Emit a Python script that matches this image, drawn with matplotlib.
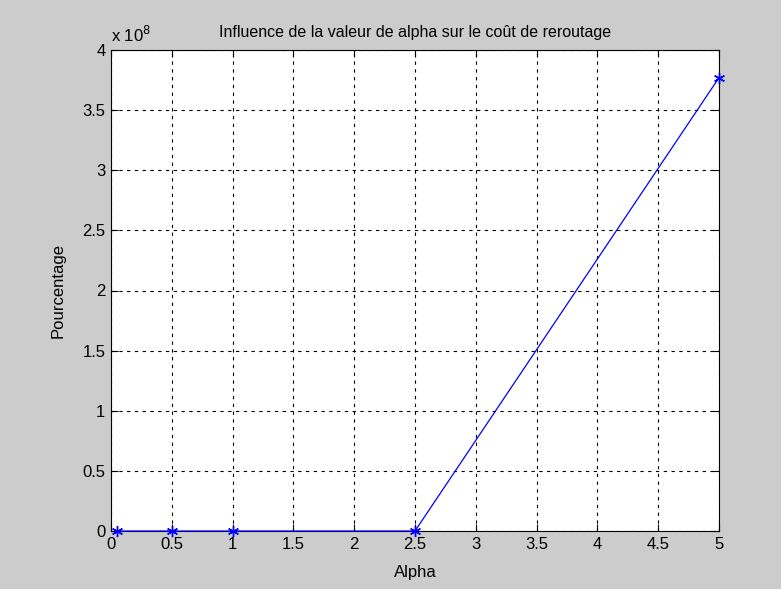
import matplotlib.pyplot as plt

alpha = [0.05, 0.5, 1, 2.5, 5]
cout = [0, 0, 0, 0, 3.77e8]
xticks = [0, 0.5, 1, 1.5, 2, 2.5, 3, 3.5, 4, 4.5, 5]
yticks = [0, 0.5, 1, 1.5, 2, 2.5, 3, 3.5, 4]

plt.rcParams['font.family'] = ['Liberation Sans', 'DejaVu Sans']

fig = plt.figure(figsize=(7.81, 5.89), dpi=100, facecolor='#cccccc')
ax = fig.add_axes([111 / 781, 1 - 531 / 589, 608 / 781, 481 / 589])
ax.set_facecolor('white')

ax.plot(alpha, [v / 1e8 for v in cout], color='blue', lw=0.9, marker=(6, 2, 0), ms=8,
        mec='blue', mew=1.0, clip_on=False, zorder=3)

ax.set_xlim(0, 5)
ax.set_ylim(0, 4)
ax.set_xticks(xticks)
ax.set_yticks(yticks)
ax.set_xticklabels([f"{t:g}" for t in xticks])
ax.set_yticklabels([f"{t:g}" for t in yticks])
ax.grid(True, color='black', ls=(0, (3, 4)), lw=0.8)
ax.tick_params(direction='in', top=True, right=True, labelsize=12, length=5, pad=4)
for s in ax.spines.values():
    s.set_linewidth(0.8)

ax.set_title("Influence de la valeur de alpha sur le coût de reroutage", fontsize=11.5, pad=9)
ax.set_xlabel("Alpha", fontsize=12, labelpad=10)
ax.set_ylabel("Pourcentage", fontsize=12, labelpad=12)
ax.text(0.0, 1.01, r"x 10$^{8}$", transform=ax.transAxes, fontsize=12, va='bottom', ha='left')

fig.savefig("out.png", dpi=100, facecolor=fig.get_facecolor())
